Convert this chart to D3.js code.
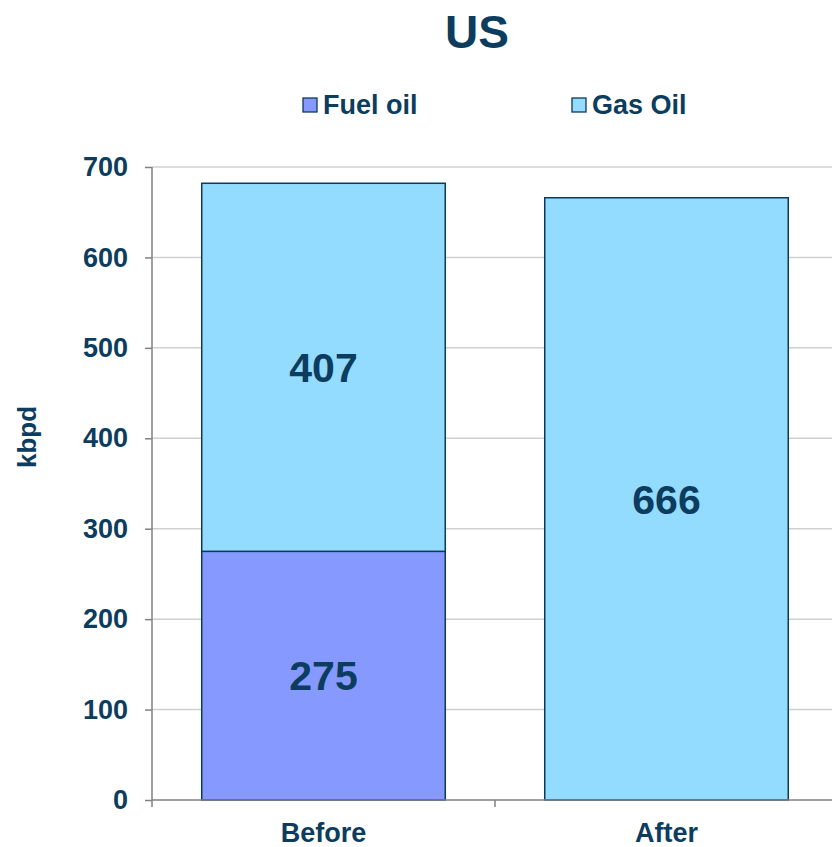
<!DOCTYPE html>
<html><head><meta charset="utf-8">
<script src="https://cdn.jsdelivr.net/npm/d3@7"></script>
<style>body{margin:0;background:#fff;}svg{display:block;font-family:"Liberation Sans",Arial,sans-serif;font-weight:bold;}</style>
</head><body>
<script>
const categories = ["Before", "After"];
const seriesNames = ["Fuel oil", "Gas Oil"];
const fuelOil = [275, 0];
const gasOil = [407, 666];
const yTicks = [0, 100, 200, 300, 400, 500, 600, 700];
const colors = ["#8599ff", "#93dbff"];
const textColor = "#0c3c5e";

const W = 832, H = 847;
const svg = d3.select("body").append("svg").attr("width", W).attr("height", H);
const m = {left: 152, right: -6, top: 167, bottom: 47};
const x = d3.scaleBand().domain(categories).range([m.left, W - m.right]).paddingInner(0.29).paddingOuter(0.145);
const xb = d3.scaleBand().domain(categories).range([m.left, W - m.right]);
const y = d3.scaleLinear().domain([0, 700]).range([H - m.bottom, m.top]);

// gridlines
svg.append("g").selectAll("line").data(yTicks.slice(1)).join("line")
  .attr("x1", m.left).attr("x2", W).attr("y1", d => y(d)).attr("y2", d => y(d))
  .attr("stroke", "#d0d0d0").attr("stroke-width", 1.5);

// stacked data
const rows = categories.map((c, i) => ({cat: c, "Fuel oil": fuelOil[i], "Gas Oil": gasOil[i]}));
const stack = d3.stack().keys(seriesNames)(rows);
stack.forEach((layer, li) => {
  svg.append("g").selectAll("rect").data(layer.filter(d => d[1] - d[0] > 0)).join("rect")
    .attr("x", d => x(d.data.cat)).attr("width", x.bandwidth())
    .attr("y", d => y(d[1])).attr("height", d => y(d[0]) - y(d[1]))
    .attr("fill", colors[li]).attr("stroke", "#0b3a5c").attr("stroke-width", 1.5);
  svg.append("g").selectAll("text").data(layer.filter(d => d[1] - d[0] > 0)).join("text")
    .attr("x", d => x(d.data.cat) + x.bandwidth() / 2)
    .attr("y", d => y((d[0] + d[1]) / 2))
    .attr("dy", "0.36em").attr("text-anchor", "middle")
    .attr("font-size", 41).attr("fill", textColor)
    .text(d => d[1] - d[0]);
});

// y axis
const ya = svg.append("g").attr("transform", `translate(${m.left},0)`)
  .call(d3.axisLeft(y).tickValues(yTicks).tickSize(7).tickPadding(17));
ya.select(".domain").attr("stroke", "#808080").attr("stroke-width", 1.5).attr("d", `M0,${y(700)}V${y(0)}`);
ya.selectAll(".tick line").attr("stroke", "#808080").attr("stroke-width", 1.5);
ya.selectAll(".tick text").attr("font-size", 27).attr("fill", textColor).attr("font-family", "Liberation Sans, Arial, sans-serif").attr("font-weight", "bold");

// x axis
const xa = svg.append("g").attr("transform", `translate(0,${y(0)})`);
xa.append("line").attr("x1", m.left).attr("x2", W).attr("y1", 0).attr("y2", 0).attr("stroke", "#808080").attr("stroke-width", 1.5);
xa.selectAll("line.tk").data(categories).join("line").attr("class", "tk")
  .attr("x1", d => xb(d)).attr("x2", d => xb(d)).attr("y1", 0).attr("y2", 7)
  .attr("stroke", "#808080").attr("stroke-width", 1.5);
xa.selectAll("text").data(categories).join("text")
  .attr("x", d => xb(d) + xb.bandwidth() / 2).attr("y", 42)
  .attr("text-anchor", "middle").attr("font-size", 27).attr("fill", textColor).text(d => d);

// y label
svg.append("text").attr("transform", `translate(36,437) rotate(-90)`)
  .attr("text-anchor", "middle").attr("font-size", 26).attr("fill", textColor).text("kbpd");

// title
svg.append("text").attr("x", 477).attr("y", 48).attr("text-anchor", "middle")
  .attr("font-size", 46).attr("fill", textColor).text("US");

// legend
const legX = [303, 572];
seriesNames.forEach((s, i) => {
  svg.append("rect").attr("x", legX[i]).attr("y", 98).attr("width", 14).attr("height", 14)
    .attr("fill", colors[i]).attr("stroke", "#0b3a5c").attr("stroke-width", 1.3);
  svg.append("text").attr("x", legX[i] + 20).attr("y", 114).attr("font-size", 27)
    .attr("fill", textColor).text(s);
});
</script>
</body></html>
